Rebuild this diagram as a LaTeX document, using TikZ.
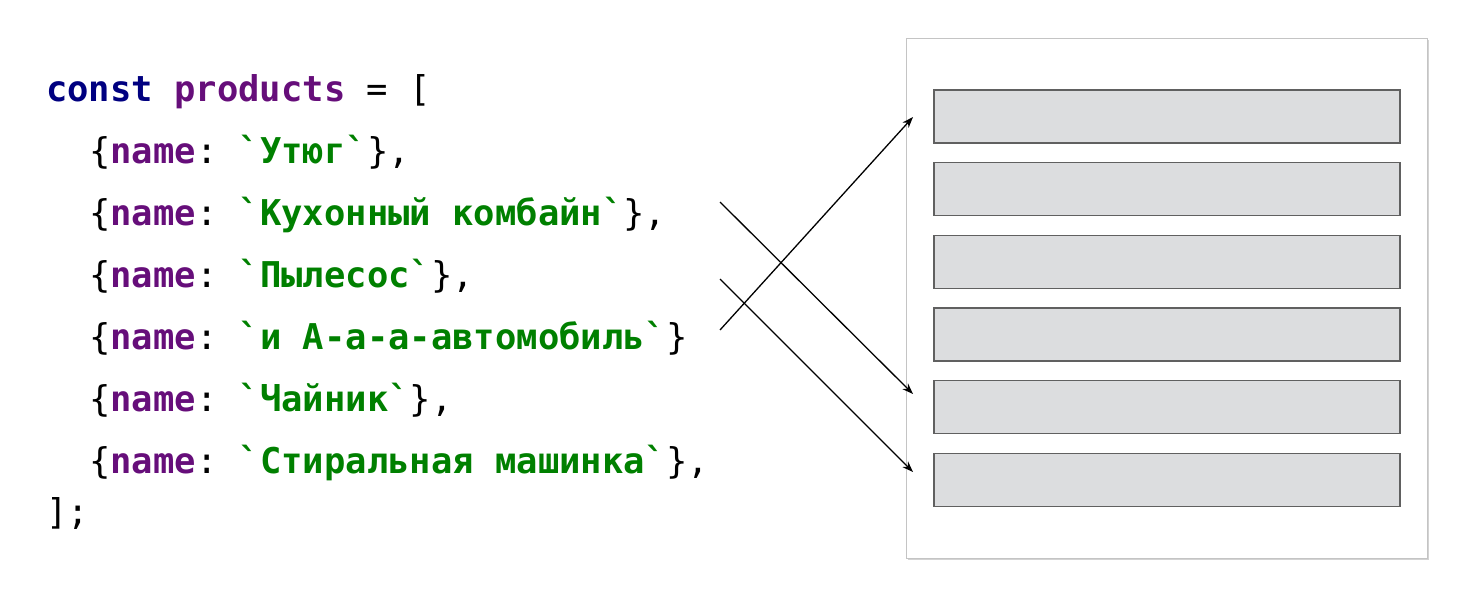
\documentclass[tikz,border=0pt]{standalone}
\usepackage{fontspec}
\setmonofont{DejaVu Sans Mono}
\usetikzlibrary{arrows.meta,shadows}
\definecolor{kw}{HTML}{000080}
\definecolor{idf}{HTML}{660E7A}
\definecolor{str}{HTML}{008000}
\definecolor{barfill}{HTML}{DCDDDF}
\definecolor{barline}{HTML}{606060}
\definecolor{panelline}{HTML}{C4C4C4}
\newcommand{\K}[1]{\textcolor{kw}{\bfseries #1}}
\newcommand{\I}[1]{\textcolor{idf}{\bfseries #1}}
\newcommand{\Sg}[1]{\textcolor{str}{\bfseries #1}}
\begin{document}
\begin{tikzpicture}[x=1pt,y=-1pt,
  codeline/.style={anchor=base west,inner sep=0pt,font=\ttfamily\fontsize{35.5}{40}\selectfont},
  bar/.style={draw=barline,fill=barfill,line width=1.1pt,minimum width=466pt,minimum height=53pt,inner sep=0pt},
  link/.style={draw=black,line width=1.3pt,-{Stealth[length=11pt,width=8pt]}}]
\useasboundingbox (0,0) rectangle (1474,605);
% panel
\node[draw=panelline,fill=white,line width=1pt,minimum width=521pt,minimum height=520pt,inner sep=0pt,
  drop shadow={shadow xshift=1.5pt,shadow yshift=-2pt,opacity=0.35}] (panel) at (1166.5,298) {};
\foreach \i/\y in {1/116.5,2/189,3/262,4/334.5,5/407,6/480}{
  \node[bar] (b\i) at (1167,\y) {};
}
% code
\node[codeline] (l0) at (46,101) {\K{const} \I{products} = [};
\node[codeline] (l1) at (89,163) {\{\I{name}: \Sg{`Утюг`}\},};
\node[codeline] (l2) at (89,225) {\{\I{name}: \Sg{`Кухонный комбайн`}\},};
\node[codeline] (l3) at (89,287) {\{\I{name}: \Sg{`Пылесос`}\},};
\node[codeline] (l4) at (89,349) {\{\I{name}: \Sg{`и А-а-а-автомобиль`}\}};
\node[codeline] (l5) at (89,411) {\{\I{name}: \Sg{`Чайник`}\},};
\node[codeline] (l6) at (89,473) {\{\I{name}: \Sg{`Стиральная машинка`}\},};
\node[codeline] (l7) at (46,524) {];};
% arrows
\coordinate (s2) at (720,202);
\coordinate (s3) at (720,279);
\coordinate (s4) at (720,330);
\coordinate (t5) at (913,394);
\coordinate (t6) at (913,472);
\coordinate (t1) at (913,117);
\draw[link] (s2) -- (t5);
\draw[link] (s3) -- (t6);
\draw[link] (s4) -- (t1);
\end{tikzpicture}
\end{document}
